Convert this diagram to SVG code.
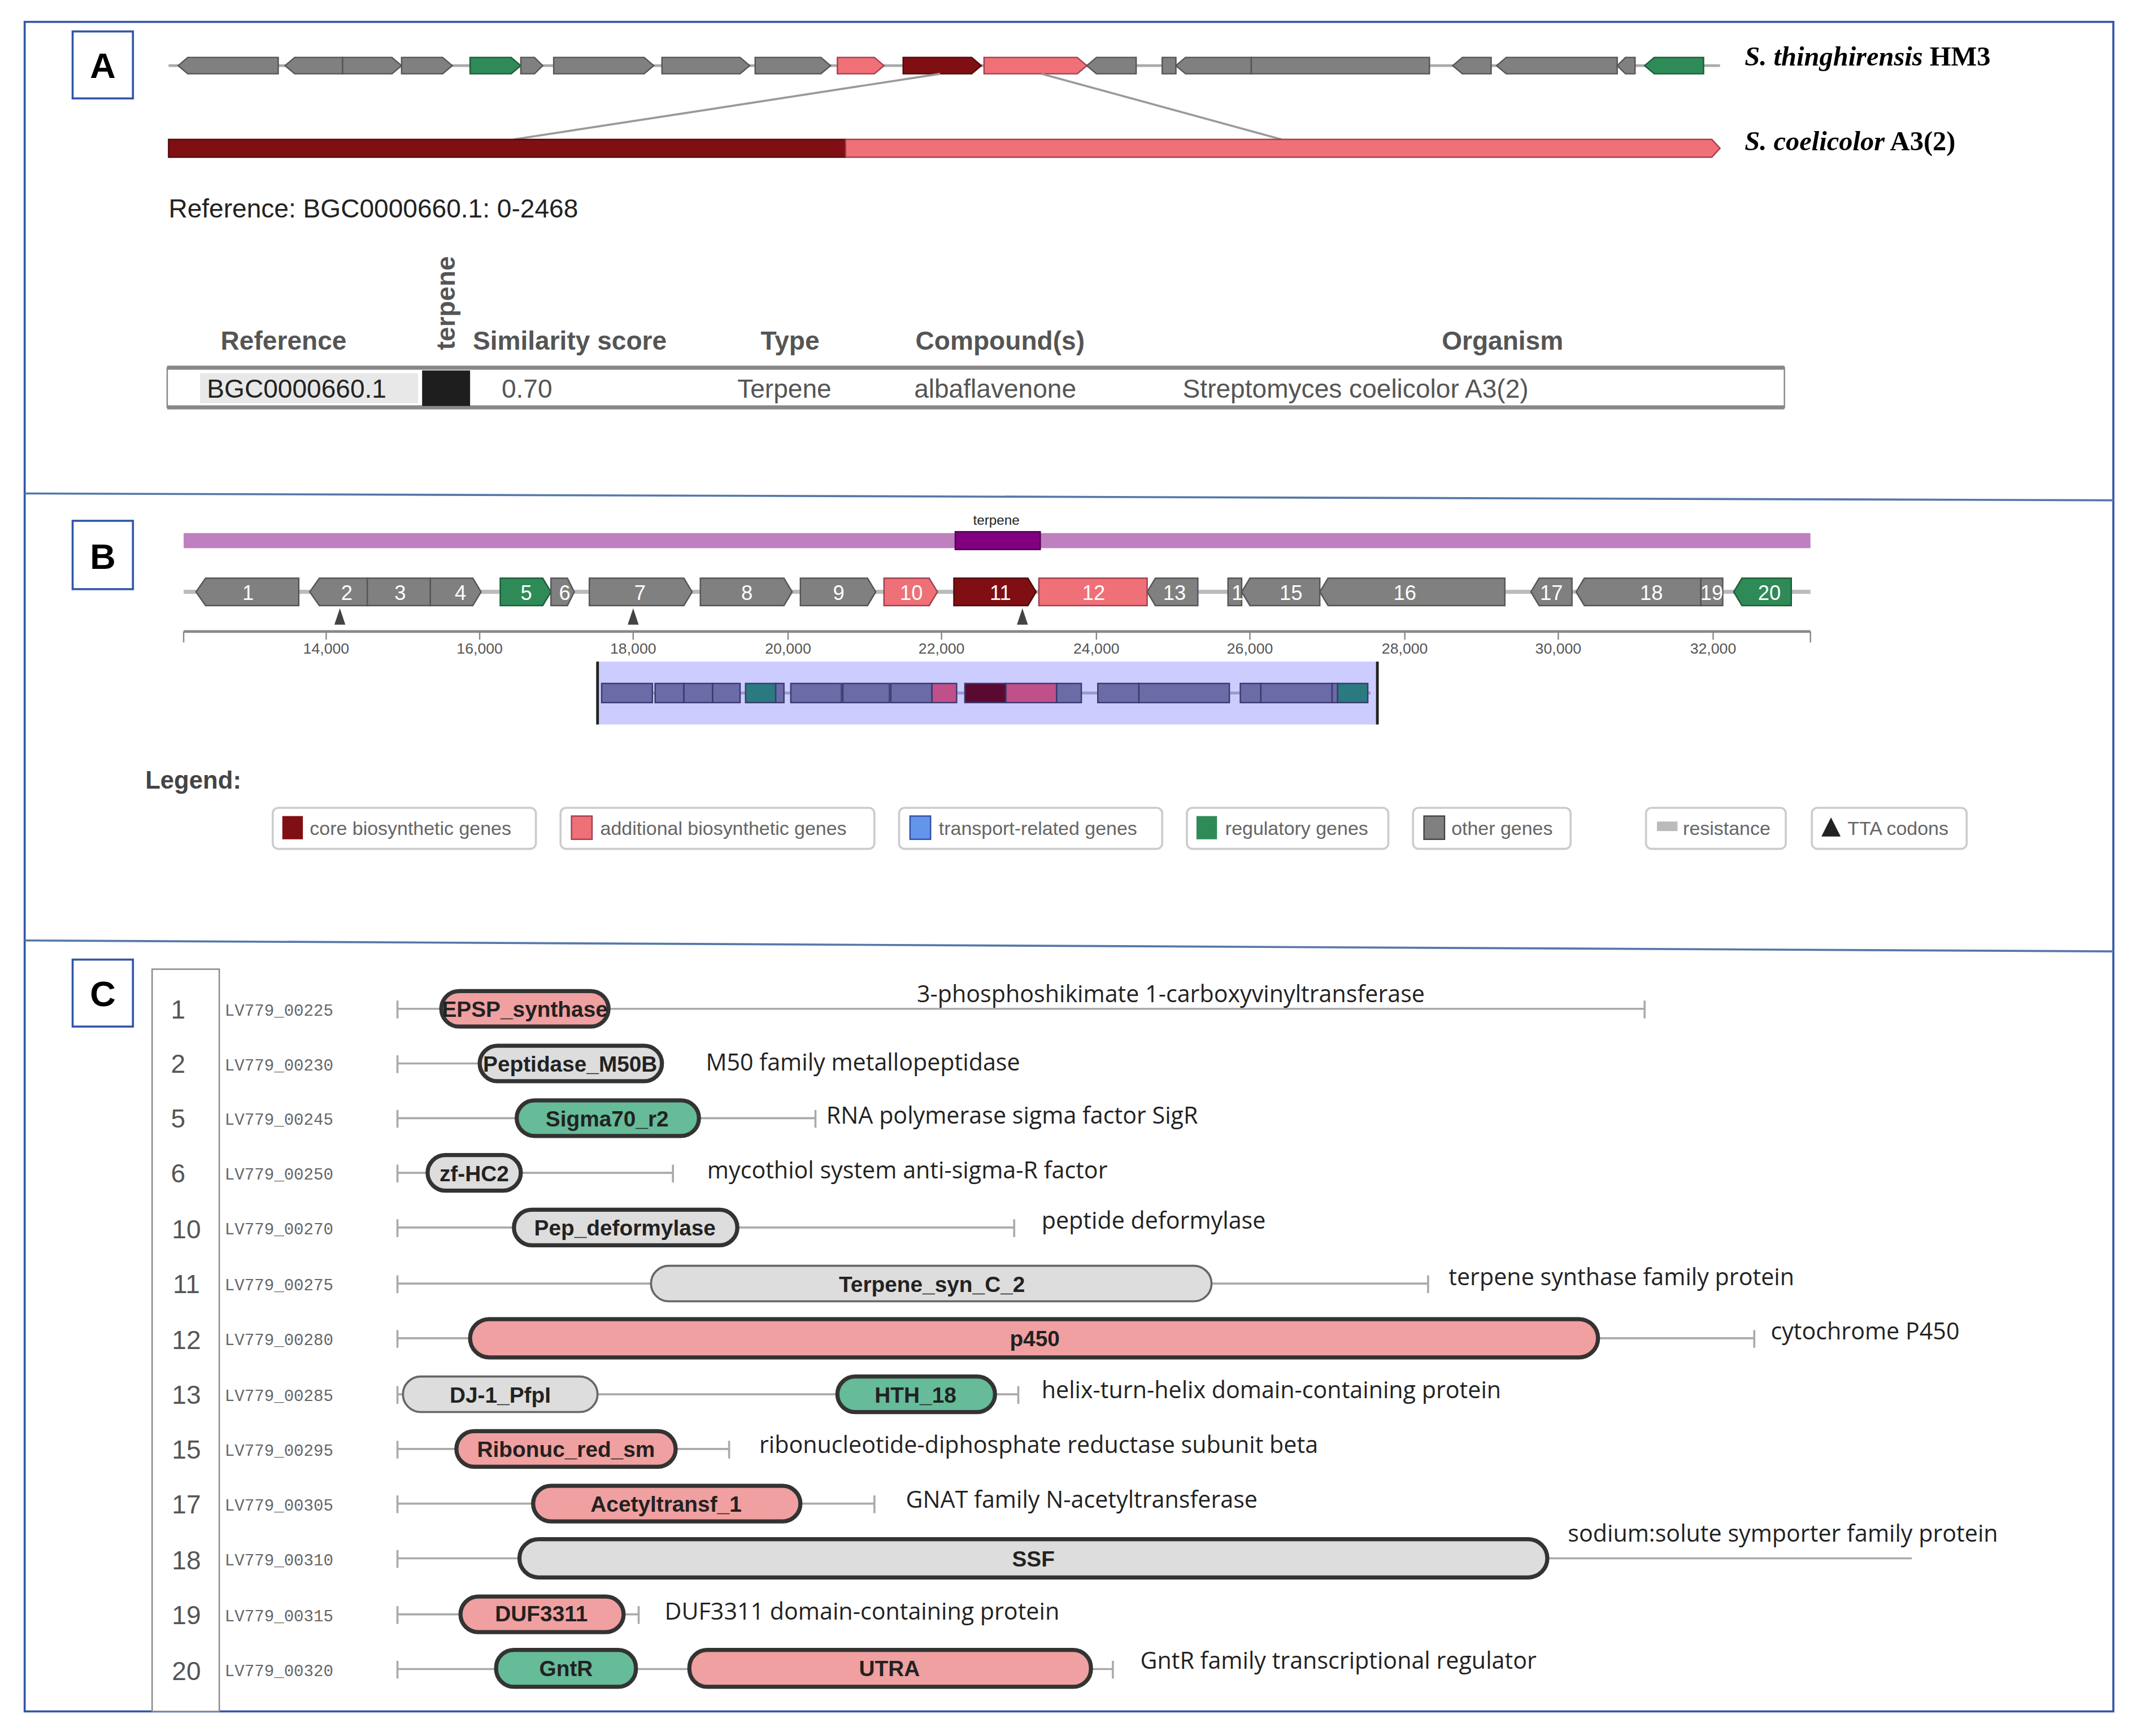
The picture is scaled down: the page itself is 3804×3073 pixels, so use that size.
<svg xmlns="http://www.w3.org/2000/svg" width="3804" height="3073" viewBox="0 0 3804 3073">
<style>
text{font-family:"Liberation Sans",Arial,sans-serif}
.sp{font-family:"Liberation Serif","Times New Roman",serif;font-size:20px;font-weight:bold}
.g{fill:#808080;stroke:#555;stroke-width:1}
.gr{fill:#2e8b57;stroke:#1d5c38;stroke-width:1}
.pk{fill:#f07078;stroke:#a04050;stroke-width:1}
.dr{fill:#800f14;stroke:#500a0c;stroke-width:1}
.num{font-size:15px;fill:#fff;text-anchor:middle}
.ax{font-size:11px;fill:#555;text-anchor:middle}
.hd{font-size:19px;font-weight:bold;fill:#555}
.td{font-size:19px;fill:#555}
.lg{font-size:14px;fill:#666}
.lb{fill:#fff;stroke:#ccc;stroke-width:1.5}
.rn{font-size:19px;fill:#555;text-anchor:middle}
.tag{font-family:"Liberation Mono",monospace;font-size:12px;fill:#666}
.ln{stroke:#aaa;stroke-width:1.5;fill:none}
.desc{font-family:"Open Sans",sans-serif;font-size:17px;fill:#222}
.pl{stroke:#333;stroke-width:3}
.pp{fill:#f0a0a0}.pg{fill:#ddd}.pn{fill:#66bb99}
.pt{font-size:16px;font-weight:bold;fill:#222;text-anchor:middle}
.box{fill:#fff;stroke:#3355aa;stroke-width:1.5}
.bl{font-size:26px;font-weight:bold;text-anchor:middle;fill:#000}
.inn{fill:#6b6ba8;stroke:#3a3a70;stroke-width:1}
</style>
<rect width="3804" height="3073" fill="#fff"/>
<g transform="scale(2.426 2.4197)">
<g id="frame">
<rect x="18" y="16" width="1524" height="1236" fill="none" stroke="#3355aa" stroke-width="1.5"/>
<line x1="18" y1="361" x2="1542" y2="366" stroke="#5577aa" stroke-width="1.5"/>
<line x1="18" y1="688" x2="1542" y2="696" stroke="#5577aa" stroke-width="1.5"/>
</g>
<g id="labelA"><rect class="box" x="53" y="23" width="44" height="49"/><text class="bl" x="75" y="57">A</text></g>
<g id="labelB"><rect class="box" x="53" y="381" width="44" height="50"/><text class="bl" x="75" y="416">B</text></g>
<g id="labelC"><rect class="box" x="53" y="702" width="44" height="49"/><text class="bl" x="75" y="736">C</text></g>

<g id="panelA">
<line x1="123" y1="48" x2="1255" y2="48" stroke="#aaa" stroke-width="2"/>
<polygon class="g" points="137,42 203,42 203,54 137,54 130,48"/>
<polygon class="g" points="215,42 250,42 250,54 215,54 208,48"/>
<polygon class="g" points="250,42 286,42 293,48 286,54 250,54"/>
<polygon class="g" points="293,42 323,42 330,48 323,54 293,54"/>
<polygon class="gr" points="343,42 373,42 380,48 373,54 343,54"/>
<polygon class="g" points="380,42 390,42 396,48 390,54 380,54"/>
<polygon class="g" points="404,42 470,42 477,48 470,54 404,54"/>
<polygon class="g" points="483,42 540,42 547,48 540,54 483,54"/>
<polygon class="g" points="551,42 599,42 606,48 599,54 551,54"/>
<polygon class="pk" points="611,42 638,42 645,48 638,54 611,54"/>
<polygon class="dr" points="659,42 709,42 716,48 709,54 659,54"/>
<polygon class="pk" points="718,42 786,42 793,48 786,54 718,54"/>
<polygon class="g" points="800,42 829,42 829,54 800,54 793,48"/>
<polygon class="g" points="848,42 858,42 858,54 848,54"/>
<polygon class="g" points="865,42 913,42 913,54 865,54 858,48"/>
<polygon class="g" points="913,42 1043,42 1043,54 913,54"/>
<polygon class="g" points="1067,42 1088,42 1088,54 1067,54 1060,48"/>
<polygon class="g" points="1099,42 1180,42 1180,54 1099,54 1092,48"/>
<polygon class="g" points="1186,42 1193,42 1193,54 1186,54 1180,48"/>
<polygon class="gr" points="1207,42 1243,42 1243,54 1207,54 1200,48"/>
<text class="sp" x="1273" y="48"><tspan font-style="italic">S. thinghirensis</tspan> HM3</text>
<line x1="686" y1="54" x2="375" y2="102" stroke="#999" stroke-width="1.5"/>
<line x1="760" y1="54" x2="935" y2="102" stroke="#999" stroke-width="1.5"/>
<rect class="dr" x="123" y="102" width="494" height="13"/>
<polygon class="pk" points="617,102 1249,102 1255,108.5 1249,115 617,115"/>
<text class="sp" x="1273" y="110"><tspan font-style="italic">S. coelicolor</tspan> A3(2)</text>
<text x="123" y="159" font-size="19" fill="#222">Reference: BGC0000660.1: 0-2468</text>
<text class="hd" x="161" y="256">Reference</text>
<text class="hd" x="0" y="0" transform="translate(332,256) rotate(-90)">terpene</text>
<text class="hd" x="345" y="256">Similarity score</text>
<text class="hd" x="555" y="256">Type</text>
<text class="hd" x="668" y="256">Compound(s)</text>
<text class="hd" x="1052" y="256">Organism</text>
<rect x="122" y="269" width="1180" height="29" fill="#fff" stroke="#888" stroke-width="1"/>
<line x1="122" y1="269" x2="1302" y2="269" stroke="#888" stroke-width="3"/>
<line x1="122" y1="298" x2="1302" y2="298" stroke="#888" stroke-width="3"/>
<rect x="146" y="273" width="159" height="22" fill="#e8e8e8"/>
<text x="151" y="291" font-size="19" fill="#222">BGC0000660.1</text>
<rect x="308" y="271" width="35" height="26" fill="#1e1e1e"/>
<text class="td" x="366" y="291">0.70</text>
<text class="td" x="538" y="291">Terpene</text>
<text class="td" x="667" y="291">albaflavenone</text>
<text class="td" x="863" y="291">Streptomyces coelicolor A3(2)</text>
</g>

<g id="panelB">
<rect x="134" y="390" width="1187" height="11" fill="#bf80bf"/>
<rect x="697" y="389" width="62" height="13" fill="#800080" stroke="#500050"/>
<text x="727" y="384" font-size="10" text-anchor="middle" fill="#222">terpene</text>
<line x1="134" y1="433" x2="1321" y2="433" stroke="#bbb" stroke-width="3"/>
<polygon class="g" points="150,423 218,423 218,443 150,443 143,433"/><text class="num" x="181" y="439">1</text>
<polygon class="g" points="233,423 268,423 268,443 233,443 226,433"/><text class="num" x="253" y="439">2</text>
<polygon class="g" points="268,423 314,423 314,443 268,443"/><text class="num" x="292" y="439">3</text>
<polygon class="g" points="314,423 345,423 351,433 345,443 314,443"/><text class="num" x="336" y="439">4</text>
<polygon class="gr" points="365,423 396,423 402,433 396,443 365,443"/><text class="num" x="384" y="439">5</text>
<polygon class="g" points="402,423 414,423 419,433 414,443 402,443"/><text class="num" x="412" y="439">6</text>
<polygon class="g" points="430,423 499,423 505,433 499,443 430,443"/><text class="num" x="467" y="439">7</text>
<polygon class="g" points="511,423 572,423 578,433 572,443 511,443"/><text class="num" x="545" y="439">8</text>
<polygon class="g" points="584,423 633,423 639,433 633,443 584,443"/><text class="num" x="612" y="439">9</text>
<polygon class="pk" points="645,423 678,423 684,433 678,443 645,443"/><text class="num" x="665" y="439">10</text>
<polygon class="dr" points="696,423 750,423 756,433 750,443 696,443"/><text class="num" x="730" y="439">11</text>
<polygon class="pk" points="758,423 837,423 837,443 758,443"/><text class="num" x="798" y="439">12</text>
<polygon class="g" points="843,423 874,423 874,443 843,443 837,433"/><text class="num" x="857" y="439">13</text>
<polygon class="g" points="896,423 906,423 906,443 896,443"/><text class="num" x="907" y="439">14</text>
<polygon class="g" points="912,423 963,423 963,443 912,443 906,433"/><text class="num" x="942" y="439">15</text>
<polygon class="g" points="969,423 1098,423 1098,443 969,443 963,433"/><text class="num" x="1025" y="439">16</text>
<polygon class="g" points="1123,423 1147,423 1147,443 1123,443 1117,433"/><text class="num" x="1132" y="439">17</text>
<polygon class="g" points="1156,423 1241,423 1241,443 1156,443 1150,433"/><text class="num" x="1205" y="439">18</text>
<polygon class="g" points="1241,423 1257,423 1257,443 1241,443"/><text class="num" x="1249" y="439">19</text>
<polygon class="gr" points="1271,423 1307,423 1307,443 1271,443 1265,433"/><text class="num" x="1291" y="439">20</text>
<polygon points="248,445 244,457 252,457" fill="#444"/>
<polygon points="462,445 458,457 466,457" fill="#444"/>
<polygon points="746,445 742,457 750,457" fill="#444"/>
<line x1="134" y1="462" x2="1321" y2="462" stroke="#888" stroke-width="2"/>
<g stroke="#888" stroke-width="1">
<line x1="134" y1="462" x2="134" y2="470"/><line x1="1321" y1="462" x2="1321" y2="470"/>
<line x1="238" y1="462" x2="238" y2="468"/><line x1="350" y1="462" x2="350" y2="468"/><line x1="462" y1="462" x2="462" y2="468"/><line x1="575" y1="462" x2="575" y2="468"/><line x1="687" y1="462" x2="687" y2="468"/><line x1="800" y1="462" x2="800" y2="468"/><line x1="912" y1="462" x2="912" y2="468"/><line x1="1025" y1="462" x2="1025" y2="468"/><line x1="1137" y1="462" x2="1137" y2="468"/><line x1="1250" y1="462" x2="1250" y2="468"/>
</g>
<text class="ax" x="238" y="478">14,000</text><text class="ax" x="350" y="478">16,000</text><text class="ax" x="462" y="478">18,000</text><text class="ax" x="575" y="478">20,000</text><text class="ax" x="687" y="478">22,000</text><text class="ax" x="800" y="478">24,000</text><text class="ax" x="912" y="478">26,000</text><text class="ax" x="1025" y="478">28,000</text><text class="ax" x="1137" y="478">30,000</text><text class="ax" x="1250" y="478">32,000</text>
<rect x="436" y="484" width="569" height="46" fill="#ccccff"/>
<line x1="436" y1="484" x2="436" y2="530" stroke="#222" stroke-width="2"/>
<line x1="1005" y1="484" x2="1005" y2="530" stroke="#222" stroke-width="2"/>
<line x1="439" y1="507" x2="1000" y2="507" stroke="#9999cc" stroke-width="2"/>
<rect class="inn" x="439" y="500" width="37" height="14"/><rect class="inn" x="478" y="500" width="21" height="14"/><rect class="inn" x="499" y="500" width="21" height="14"/><rect class="inn" x="520" y="500" width="20" height="14"/>
<rect x="544" y="500" width="22" height="14" fill="#2a7a80" stroke="#3a3a70"/><rect class="inn" x="566" y="500" width="6" height="14"/>
<rect class="inn" x="577" y="500" width="37" height="14"/><rect class="inn" x="615" y="500" width="34" height="14"/><rect class="inn" x="650" y="500" width="30" height="14"/>
<rect x="680" y="500" width="18" height="14" fill="#c0508a" stroke="#3a3a70"/>
<rect x="704" y="500" width="30" height="14" fill="#5a0a30" stroke="#3a3a70"/><rect x="734" y="500" width="37" height="14" fill="#c0508a" stroke="#3a3a70"/><rect class="inn" x="771" y="500" width="18" height="14"/>
<rect class="inn" x="801" y="500" width="30" height="14"/><rect class="inn" x="831" y="500" width="66" height="14"/>
<rect class="inn" x="905" y="500" width="15" height="14"/><rect class="inn" x="920" y="500" width="52" height="14"/><rect class="inn" x="972" y="500" width="4" height="14"/>
<rect x="976" y="500" width="22" height="14" fill="#2a7a80" stroke="#3a3a70"/>
<text x="106" y="577" font-size="18" font-weight="bold" fill="#444">Legend:</text>
<rect class="lb" x="199" y="591" width="192" height="30" rx="4"/><rect x="206" y="597" width="15" height="17" fill="#800f14"/><text class="lg" x="226" y="611">core biosynthetic genes</text>
<rect class="lb" x="409" y="591" width="229" height="30" rx="4"/><rect x="417" y="597" width="15" height="17" fill="#f07078" stroke="#a04050"/><text class="lg" x="438" y="611">additional biosynthetic genes</text>
<rect class="lb" x="656" y="591" width="192" height="30" rx="4"/><rect x="664" y="597" width="15" height="17" fill="#6495ed" stroke="#3050a0"/><text class="lg" x="685" y="611">transport-related genes</text>
<rect class="lb" x="866" y="591" width="147" height="30" rx="4"/><rect x="873" y="597" width="15" height="17" fill="#2e8b57"/><text class="lg" x="894" y="611">regulatory genes</text>
<rect class="lb" x="1031" y="591" width="115" height="30" rx="4"/><rect x="1039" y="597" width="15" height="17" fill="#808080" stroke="#444"/><text class="lg" x="1059" y="611">other genes</text>
<rect class="lb" x="1201" y="591" width="102" height="30" rx="4"/><rect x="1209" y="601" width="15" height="7" fill="#bbb"/><text class="lg" x="1228" y="611">resistance</text>
<rect class="lb" x="1322" y="591" width="113" height="30" rx="4"/><polygon points="1336,598 1329,612 1343,612" fill="#222"/><text class="lg" x="1348" y="611">TTA codons</text>
</g>

<g id="panelC">
<rect x="111" y="709" width="49" height="543" fill="#fff" stroke="#888" stroke-width="1"/>
<g id="row1"><text class="rn" x="130" y="745">1</text><text class="tag" x="164" y="743">LV779_00225</text>
<line class="ln" x1="290" y1="738" x2="1200" y2="738"/><line class="ln" x1="290" y1="732" x2="290" y2="745"/><line class="ln" x1="1200" y1="732" x2="1200" y2="745"/>
<rect class="pl pp" x="322" y="725" width="122" height="26" rx="13"/><text class="pt" x="383" y="744">EPSP_synthase</text>
<text class="desc" x="669" y="733">3-phosphoshikimate 1-carboxyvinyltransferase</text></g>
<g id="row2"><text class="rn" x="130" y="785">2</text><text class="tag" x="164" y="783">LV779_00230</text>
<line class="ln" x1="290" y1="778" x2="483" y2="778"/><line class="ln" x1="290" y1="772" x2="290" y2="785"/>
<rect class="pl pg" x="350" y="765" width="133" height="26" rx="13"/><text class="pt" x="416" y="784">Peptidase_M50B</text>
<text class="desc" x="515" y="783">M50 family metallopeptidase</text></g>
<g id="row5"><text class="rn" x="130" y="825">5</text><text class="tag" x="164" y="823">LV779_00245</text>
<line class="ln" x1="290" y1="818" x2="595" y2="818"/><line class="ln" x1="290" y1="812" x2="290" y2="825"/><line class="ln" x1="595" y1="812" x2="595" y2="825"/>
<rect class="pl pn" x="377" y="805" width="133" height="26" rx="13"/><text class="pt" x="443" y="824">Sigma70_r2</text>
<text class="desc" x="603" y="822">RNA polymerase sigma factor SigR</text></g>
<g id="row6"><text class="rn" x="130" y="865">6</text><text class="tag" x="164" y="863">LV779_00250</text>
<line class="ln" x1="290" y1="858" x2="491" y2="858"/><line class="ln" x1="290" y1="852" x2="290" y2="865"/><line class="ln" x1="491" y1="852" x2="491" y2="865"/>
<rect class="pl pg" x="312" y="845" width="68" height="26" rx="13"/><text class="pt" x="346" y="864">zf-HC2</text>
<text class="desc" x="516" y="862">mycothiol system anti-sigma-R factor</text></g>
<g id="row10"><text class="rn" x="136" y="906">10</text><text class="tag" x="164" y="903">LV779_00270</text>
<line class="ln" x1="290" y1="898" x2="740" y2="898"/><line class="ln" x1="290" y1="892" x2="290" y2="905"/><line class="ln" x1="740" y1="892" x2="740" y2="905"/>
<rect class="pl pg" x="375" y="885" width="163" height="26" rx="13"/><text class="pt" x="456" y="904">Pep_deformylase</text>
<text class="desc" x="760" y="899">peptide deformylase</text></g>
<g id="row11"><text class="rn" x="136" y="946">11</text><text class="tag" x="164" y="944">LV779_00275</text>
<line class="ln" x1="290" y1="939" x2="1042" y2="939"/><line class="ln" x1="290" y1="933" x2="290" y2="946"/><line class="ln" x1="1042" y1="933" x2="1042" y2="946"/>
<rect x="475" y="926" width="409" height="26" rx="13" fill="#ddd" stroke="#666" stroke-width="1.5"/><text class="pt" x="680" y="945">Terpene_syn_C_2</text>
<text class="desc" x="1057" y="940">terpene synthase family protein</text></g>
<g id="row12"><text class="rn" x="136" y="987">12</text><text class="tag" x="164" y="984">LV779_00280</text>
<line class="ln" x1="290" y1="979" x2="1280" y2="979"/><line class="ln" x1="290" y1="973" x2="290" y2="986"/><line class="ln" x1="1280" y1="973" x2="1280" y2="986"/>
<rect class="pl pp" x="343" y="965" width="823" height="28" rx="14"/><text class="pt" x="755" y="985">p450</text>
<text class="desc" x="1292" y="980">cytochrome P450</text></g>
<g id="row13"><text class="rn" x="136" y="1027">13</text><text class="tag" x="164" y="1025">LV779_00285</text>
<line class="ln" x1="290" y1="1020" x2="743" y2="1020"/><line class="ln" x1="290" y1="1014" x2="290" y2="1027"/><line class="ln" x1="743" y1="1014" x2="743" y2="1027"/>
<rect x="294" y="1007" width="142" height="26" rx="13" fill="#ddd" stroke="#666" stroke-width="1.5"/><text class="pt" x="365" y="1026">DJ-1_PfpI</text>
<rect class="pl pn" x="611" y="1007" width="115" height="26" rx="13"/><text class="pt" x="668" y="1026">HTH_18</text>
<text class="desc" x="760" y="1023">helix-turn-helix domain-containing protein</text></g>
<g id="row15"><text class="rn" x="136" y="1067">15</text><text class="tag" x="164" y="1065">LV779_00295</text>
<line class="ln" x1="290" y1="1060" x2="532" y2="1060"/><line class="ln" x1="290" y1="1054" x2="290" y2="1067"/><line class="ln" x1="532" y1="1054" x2="532" y2="1067"/>
<rect class="pl pp" x="333" y="1047" width="160" height="26" rx="13"/><text class="pt" x="413" y="1066">Ribonuc_red_sm</text>
<text class="desc" x="554" y="1063">ribonucleotide-diphosphate reductase subunit beta</text></g>
<g id="row17"><text class="rn" x="136" y="1107">17</text><text class="tag" x="164" y="1105">LV779_00305</text>
<line class="ln" x1="290" y1="1100" x2="638" y2="1100"/><line class="ln" x1="290" y1="1094" x2="290" y2="1107"/><line class="ln" x1="638" y1="1094" x2="638" y2="1107"/>
<rect class="pl pp" x="389" y="1087" width="195" height="26" rx="13"/><text class="pt" x="486" y="1106">Acetyltransf_1</text>
<text class="desc" x="661" y="1103">GNAT family N-acetyltransferase</text></g>
<g id="row18"><text class="rn" x="136" y="1148">18</text><text class="tag" x="164" y="1145">LV779_00310</text>
<line class="ln" x1="290" y1="1140" x2="1395" y2="1140"/><line class="ln" x1="290" y1="1134" x2="290" y2="1147"/>
<rect class="pl pg" x="379" y="1126" width="750" height="28" rx="14"/><text class="pt" x="754" y="1146">SSF</text>
<text class="desc" x="1144" y="1128">sodium:solute symporter family protein</text></g>
<g id="row19"><text class="rn" x="136" y="1188">19</text><text class="tag" x="164" y="1186">LV779_00315</text>
<line class="ln" x1="290" y1="1181" x2="466" y2="1181"/><line class="ln" x1="290" y1="1175" x2="290" y2="1188"/><line class="ln" x1="466" y1="1175" x2="466" y2="1188"/>
<rect class="pl pp" x="336" y="1168" width="119" height="26" rx="13"/><text class="pt" x="395" y="1186">DUF3311</text>
<text class="desc" x="485" y="1185">DUF3311 domain-containing protein</text></g>
<g id="row20"><text class="rn" x="136" y="1229">20</text><text class="tag" x="164" y="1226">LV779_00320</text>
<line class="ln" x1="290" y1="1221" x2="812" y2="1221"/><line class="ln" x1="290" y1="1215" x2="290" y2="1228"/><line class="ln" x1="812" y1="1215" x2="812" y2="1228"/>
<rect class="pl pn" x="362" y="1207" width="102" height="27" rx="13"/><text class="pt" x="413" y="1226">GntR</text>
<rect class="pl pp" x="503" y="1207" width="293" height="27" rx="13"/><text class="pt" x="649" y="1226">UTRA</text>
<text class="desc" x="832" y="1221">GntR family transcriptional regulator</text></g>
</g>
</g>
</svg>
